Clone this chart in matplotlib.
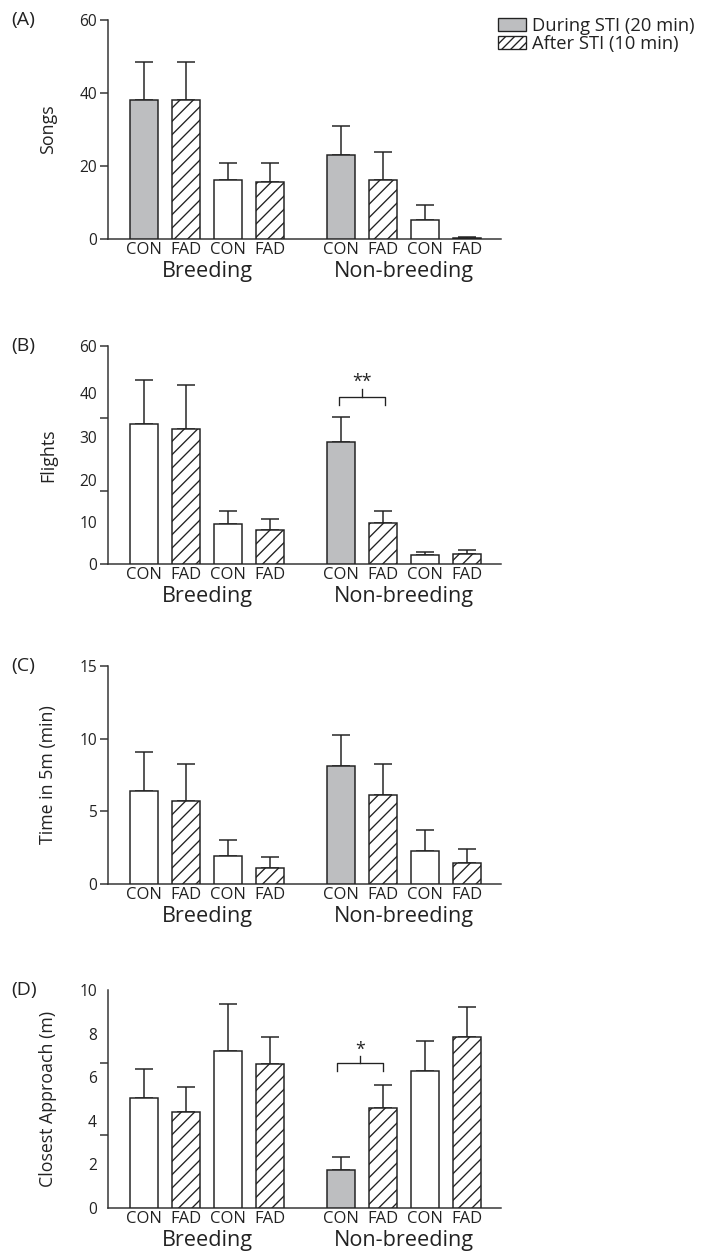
import numpy as np
import matplotlib
matplotlib.use("Agg")
import matplotlib.pyplot as plt
from matplotlib.patches import Patch

plt.rcParams['font.family'] = ['Open Sans', 'DejaVu Sans']
plt.rcParams['hatch.linewidth'] = 1.2
plt.rcParams['hatch.color'] = '#222222'

# DATA
bar_labels = ['CON', 'FAD', 'CON', 'FAD', 'CON', 'FAD', 'CON', 'FAD']
groups = ['Breeding', 'Non-breeding']

songs_mean = [38.1, 38.1, 16.1, 15.6, 23.1, 16.1, 5.3, 0.4]
songs_err = [10.3, 10.3, 4.6, 5.1, 8.0, 7.7, 3.9, 0.1]

flights_mean = [38.6, 37.0, 10.9, 9.4, 33.4, 11.4, 2.6, 2.7]
flights_err = [11.9, 12.3, 3.6, 3.1, 7.0, 3.1, 0.8, 1.1]

time_mean = [6.42, 5.73, 1.90, 1.10, 8.14, 6.12, 2.29, 1.42]
time_err = [2.64, 2.50, 1.15, 0.78, 2.11, 2.16, 1.40, 0.97]

approach_mean = [5.05, 4.40, 7.22, 6.61, 1.74, 4.57, 6.27, 7.83]
approach_err = [1.33, 1.17, 2.15, 1.25, 0.61, 1.09, 1.41, 1.39]

legend_labels = ['During STI (20 min)', 'After STI (10 min)']

# STYLE
GRAY = '#bdbec0'
EDGE = '#222222'
AXC = '#333333'
TXT = '#222222'
LW = 1.35

x = np.r_[np.arange(4), np.arange(4) + 4.68]
group_x = [x[:4].mean(), x[4:].mean()]

fig = plt.figure(figsize=(701 / 80, 1252 / 80), dpi=80)

panels = [
    # letter, ylabel, mean, err, ymax, shaded bars, axes rect
    ('(A)', 'Songs', songs_mean, songs_err, 60, [0, 4], [0.1541, 0.8091, 0.5606, 0.1749]),
    ('(B)', 'Flights', flights_mean, flights_err, 60, [4], [0.1541, 0.5495, 0.5606, 0.1744]),
    ('(C)', 'Time in 5m (min)', time_mean, time_err, 15, [4], [0.1541, 0.2939, 0.5606, 0.1741]),
    ('(D)', 'Closest Approach (m)', approach_mean, approach_err, 10, [4], [0.1541, 0.0351, 0.5606, 0.1741]),
]

axes = []
for letter, ylab, mean, err, ymax, shaded, rect in panels:
    ax = fig.add_axes(rect)
    axes.append(ax)
    for i in range(len(x)):
        hatched = i % 2 == 1
        face = GRAY if i in shaded else 'white'
        ax.bar(x[i], mean[i], width=0.667, facecolor=face, edgecolor=EDGE,
               linewidth=LW, hatch='//' if hatched else None, zorder=3)
    ax.errorbar(x, mean, yerr=[np.zeros(len(x)), err], fmt='none', ecolor=EDGE,
                elinewidth=LW, capsize=8.4, capthick=LW, zorder=2)

    ax.set_xlim(-0.857, 8.5)
    ax.set_ylim(0, ymax)
    for s in ['top', 'right']:
        ax.spines[s].set_visible(False)
    for s in ['left', 'bottom']:
        ax.spines[s].set_color(AXC)
        ax.spines[s].set_linewidth(LW)

    ax.set_xticks(x, bar_labels)
    ax.tick_params(axis='x', length=0, pad=3, labelsize=15, labelcolor=TXT)
    ax.tick_params(axis='y', length=7, width=LW, color=AXC, pad=3,
                   labelsize=14, labelcolor=TXT)
    for gx, g in zip(group_x, groups):
        ax.text(gx, -0.1735, g, transform=ax.get_xaxis_transform(),
                ha='center', va='baseline', fontsize=19.5, color=TXT)

    ax.set_ylabel(ylab, fontsize=16, color=TXT)
    ax.yaxis.set_label_coords(-0.13, 0.5)
    ax.text(-0.245, 1.0, letter, transform=ax.transAxes, ha='left',
            va='center', fontsize=17.5, color=TXT)

# y-axis ticks as printed in the original
axA, axB, axC, axD = axes
axA.set_yticks([0, 20, 40, 60])
axC.set_yticks([0, 5, 10, 15])

axB.set_yticks([0, 20, 40, 60], ['0', '', '', '60'])
axB.set_yticks([11.6, 23.1, 35.0, 46.9], ['10', '20', '30', '40'], minor=True)
axB.tick_params(axis='y', which='minor', length=0, pad=10, labelsize=14,
                labelcolor=TXT)

axD.set_yticks([0, 2, 4, 6, 8, 10])
axD.tick_params(axis='y', which='major', length=0, pad=10)
axD.set_yticks([0, 10 / 3, 20 / 3, 10], minor=True)
axD.tick_params(axis='y', which='minor', length=7, width=LW, color=AXC,
                labelleft=False)


def bracket(ax, x0, x1, top, leg, mid, label, label_y):
    ax.plot([x0, x0, x1, x1], [leg, top, top, leg], color=EDGE, lw=1.2,
            clip_on=False, zorder=4)
    xm = (x0 + x1) / 2
    ax.plot([xm, xm], [top, mid], color=EDGE, lw=1.2, clip_on=False, zorder=4)
    ax.text(xm, label_y, label, ha='center', va='center', fontsize=16,
            color=TXT)


bracket(axB, x[4] - 0.03, x[5] + 0.05, 46.0, 43.7, 48.0, '**', 50.0)
bracket(axD, x[4] - 0.08, x[5], 6.65, 6.27, 6.97, '*', 7.25)

handles = [Patch(facecolor=GRAY, edgecolor=EDGE, linewidth=1.2),
           Patch(facecolor='white', edgecolor=EDGE, linewidth=1.2, hatch='///')]
fig.legend(handles, legend_labels, loc='upper left',
           bbox_to_anchor=(498 / 701, 1 - 17 / 1252), frameon=False,
           fontsize=16.5, handlelength=1.5, handleheight=0.65,
           handletextpad=0.35, labelspacing=0.0, borderpad=0,
           borderaxespad=0, labelcolor=TXT)

fig.savefig('out.png', dpi=80)
